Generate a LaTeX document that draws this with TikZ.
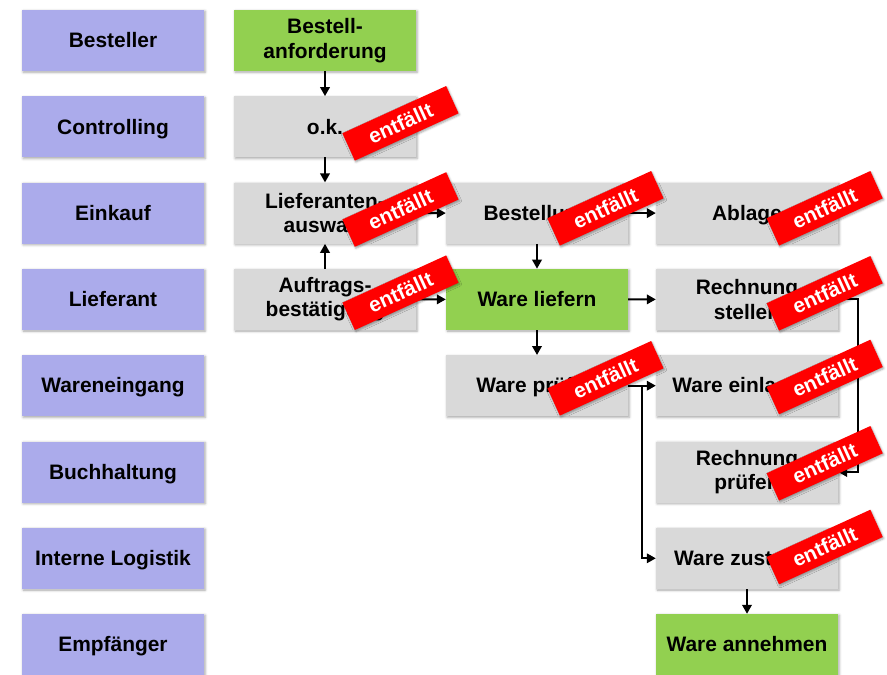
\documentclass[tikz,border=0pt]{standalone}
\usepackage{fontspec}
\setmainfont{Liberation Sans}
\usetikzlibrary{arrows.meta,shadows.blur}
\definecolor{lav}{RGB}{171,171,235}
\definecolor{grn}{RGB}{146,208,80}
\definecolor{gry}{RGB}{217,217,217}
\definecolor{rd}{RGB}{255,0,0}
\tikzset{
  box/.style={minimum width=182bp, minimum height=61bp, inner sep=0pt, align=center,
    text height=19bp, text depth=4.45bp,
    font=\fontsize{21}{24.5}\selectfont\bfseries,
    blur shadow={shadow xshift=1.2bp, shadow yshift=-1.2bp, shadow blur radius=2.5bp, shadow opacity=35}},
  twoline/.style={text height={}, text depth={}, inner ysep=0pt, yshift=-2bp},
  role/.style={box, fill=lav},
  act/.style={box, fill=gry},
  goal/.style={box, fill=grn},
  stamp/.style={fill=rd, text=white, rotate=24.5, minimum width=114bp, minimum height=30bp,
    inner sep=0pt, text height=19bp, text depth=4.45bp, font=\fontsize{21}{24}\selectfont\bfseries,
    blur shadow={shadow xshift=1bp, shadow yshift=-1.5bp, shadow blur radius=2bp, shadow opacity=35}},
  arr/.style={line width=2bp, -{Triangle[length=9bp,width=9.5bp]}}
}
\begin{document}
\begin{tikzpicture}[x=1bp,y=-1bp]
\useasboundingbox (0,0) rectangle (887,675);
% roles
\node[role] (r1) at (113,40.5) {Besteller};
\node[role] (r2) at (113,126.8) {Controlling};
\node[role] (r3) at (113,213.1) {Einkauf};
\node[role] (r4) at (113,299.4) {Lieferant};
\node[role] (r5) at (113,385.7) {Wareneingang};
\node[role] (r6) at (113,472) {Buchhaltung};
\node[role] (r7) at (113,558.3) {Interne Logistik};
\node[role] (r8) at (113,644.5) {Empfänger};
% activities (two-line boxes are drawn 2bp lower by the style, so placed 2bp higher)
\node[goal, twoline] (ba) at (325,38.5) {Bestell-\\anforderung};
\node[act] (ok) at (325,126.8) {o.k.};
\node[act, twoline] (la) at (325,211.1) {Lieferanten-\\auswahl};
\node[act, twoline] (ab) at (325,297.4) {Auftrags-\\bestätigung};
\node[act] (bs) at (537,213.1) {Bestellung};
\node[goal] (wl) at (537,299.4) {Ware liefern};
\node[act] (wp) at (537,385.7) {Ware prüfen};
\node[act] (ag) at (747,213.1) {Ablage};
\node[act, twoline] (rs) at (747,297.4) {Rechnung\\stellen};
\node[act] (we) at (747,385.7) {Ware einlagern};
\node[act, twoline] (rp) at (747,470) {Rechnung\\prüfen};
\node[act] (wz) at (747,558.3) {Ware zustellen};
\node[goal] (wa) at (747,644.5) {Ware annehmen};
% connectors
\draw[arr] (ba) -- (ok);
\draw[arr] (ok) -- (la);
\draw[arr] (ab) -- (la);
\draw[arr] (la) -- (bs);
\draw[arr] (ab) -- (wl);
\draw[arr] (bs) -- (ag);
\draw[arr] (bs) -- (wl);
\draw[arr] (wl) -- (rs);
\draw[arr] (wl) -- (wp);
\draw[arr] (wp) -- (we);
\draw[arr] (wp.east) -- ++(14,0) |- (wz.west);
\draw[arr] (rs.east) -- ++(19.5,0) |- (rp.east);
\draw[arr] (wz) -- (wa);
% stamps
\node[stamp] (s1) at (400.5,123.3) {entfällt};
\node[stamp] (s2) at (400.5,209.5) {entfällt};
\node[stamp] (s3) at (400.5,292.7) {entfällt};
\node[stamp] (s4) at (605.5,208.3) {entfällt};
\node[stamp] (s5) at (605.5,378.3) {entfällt};
\node[stamp] (s6) at (824.7,208.3) {entfällt};
\node[stamp] (s7) at (824.7,293.3) {entfällt};
\node[stamp] (s8) at (824.7,377) {entfällt};
\node[stamp] (s9) at (824.7,463.3) {entfällt};
\node[stamp] (s10) at (824.7,547) {entfällt};
\end{tikzpicture}
\end{document}
